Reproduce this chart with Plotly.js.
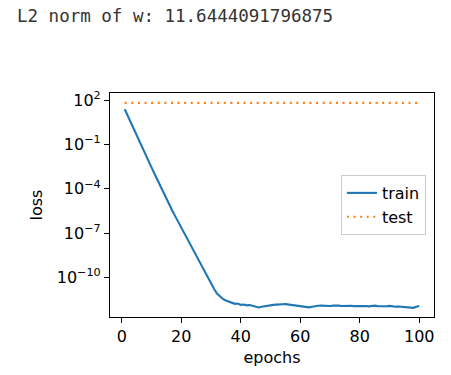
<!DOCTYPE html>
<html>
<head>
<meta charset="utf-8">
<script src="https://cdn.plot.ly/plotly-3.0.1.min.js"></script>
<style>html,body{margin:0;padding:0;background:#fff;}#chart{width:451px;height:375px;}</style>
</head>
<body>
<div id="chart"></div>
<script>
const headerText = "L2 norm of w: 11.6444091796875";
const epochs = [];
for (let i = 1; i <= 100; i++) epochs.push(i);
const trainLoss = [
  24.5, 8.71, 3.16, 1.15, 0.417, 0.151, 0.0562, 0.0209, 0.00776, 0.00288,
  0.00107, 3.98e-4, 1.48e-4, 5.62e-5, 2.14e-5, 7.94e-6, 3.31e-6, 1.38e-6, 5.75e-7, 2.40e-7,
  1.00e-7, 4.17e-8, 1.74e-8, 7.24e-9, 3.02e-9, 1.26e-9, 5.25e-10, 2.19e-10, 9.12e-11, 3.98e-11,
  1.74e-11, 8.32e-12, 5.01e-12, 3.55e-12, 2.82e-12, 2.34e-12, 2.00e-12, 1.66e-12, 1.74e-12, 1.41e-12,
  1.51e-12, 1.32e-12, 1.38e-12, 1.20e-12, 1.05e-12, 9.55e-13, 1.07e-12, 1.17e-12, 1.20e-12, 1.32e-12,
  1.41e-12, 1.48e-12, 1.58e-12, 1.55e-12, 1.58e-12, 1.48e-12, 1.38e-12, 1.29e-12, 1.23e-12, 1.20e-12,
  1.12e-12, 1.05e-12, 9.55e-13, 1.05e-12, 1.17e-12, 1.23e-12, 1.26e-12, 1.20e-12, 1.15e-12, 1.20e-12,
  1.26e-12, 1.29e-12, 1.26e-12, 1.20e-12, 1.23e-12, 1.26e-12, 1.23e-12, 1.17e-12, 1.20e-12, 1.26e-12,
  1.29e-12, 1.20e-12, 1.12e-12, 1.20e-12, 1.26e-12, 1.17e-12, 1.12e-12, 1.07e-12, 1.15e-12, 1.20e-12,
  1.12e-12, 1.07e-12, 1.10e-12, 1.05e-12, 9.55e-13, 8.71e-13, 8.32e-13, 8.91e-13, 1.05e-12, 1.17e-12
];
const testLoss = [
  66, 66, 66, 66, 66, 66, 66, 66, 66, 66,
  66, 66, 66, 66, 66, 66, 66, 66, 66, 66,
  66, 66, 66, 66, 66, 66, 66, 66, 66, 66,
  66, 66, 66, 66, 66, 66, 66, 66, 66, 66,
  66, 66, 66, 66, 66, 66, 66, 66, 66, 66,
  66, 66, 66, 66, 66, 66, 66, 66, 66, 66,
  66, 66, 66, 66, 66, 66, 66, 66, 66, 66,
  66, 66, 66, 66, 66, 66, 66, 66, 66, 66,
  66, 66, 66, 66, 66, 66, 66, 66, 66, 66,
  66, 66, 66, 66, 66, 66, 66, 66, 66, 66
];
const xTicks = [0, 20, 40, 60, 80, 100];
const yTickVals = [1e2, 1e-1, 1e-4, 1e-7, 1e-10];
const yTickText = ["10<sup>2</sup>", "10<sup>\u22121</sup>", "10<sup>\u22124</sup>", "10<sup>\u22127</sup>", "10<sup>\u221210</sup>"];

const font = "DejaVu Sans, sans-serif";
const traces = [
  {x: epochs, y: trainLoss, name: "train", type: "scatter", mode: "lines",
   line: {color: "#1f77b4", width: 2.1}},
  {x: epochs, y: testLoss, name: "test", type: "scatter", mode: "lines",
   line: {color: "#ff7f0e", width: 2.1, dash: "2px,4.6px"}}
];
const layout = {
  width: 451, height: 375,
  paper_bgcolor: "#fff", plot_bgcolor: "#fff",
  margin: {l: 110, r: 17, t: 93, b: 58, pad: 0},
  font: {family: font, size: 16, color: "#000"},
  title: {text: headerText, font: {family: "DejaVu Sans Mono, monospace", size: 17.5, color: "#333"},
          xref: "container", yref: "container", x: 17/451, xanchor: "left", y: 1 - 16/375, yanchor: "middle", pad: {t:0,b:0,l:0,r:0}},
  xaxis: {range: [-3.95, 104.95], tickvals: xTicks, ticks: "outside", ticklen: 5, tickwidth: 1.1, tickcolor: "#000",
          showline: true, mirror: true, linecolor: "#000", linewidth: 1.1, showgrid: false, zeroline: false,
          tickfont: {size: 16},
          title: {text: "epochs", standoff: 6, font: {size: 16}}},
  yaxis: {type: "log", range: [-12.67, 2.49], tickvals: yTickVals, ticktext: yTickText, ticks: "outside", ticklen: 5,
          tickwidth: 1.1, tickcolor: "#000", showline: true, mirror: true, linecolor: "#000", linewidth: 1.1,
          showgrid: false, zeroline: false, tickfont: {size: 16},
          title: {text: "loss", standoff: 10, font: {size: 16}}},
  legend: {x: 0.975, xanchor: "right", y: 0.5, yanchor: "middle", bgcolor: "rgba(255,255,255,0.8)",
           bordercolor: "#cccccc", borderwidth: 1, font: {size: 16}, entrywidth: 52, entrywidthmode: "pixels",
           tracegroupgap: 0},
  showlegend: true
};
Plotly.newPlot("chart", traces, layout, {staticPlot: true, displayModeBar: false});
</script>
</body>
</html>
